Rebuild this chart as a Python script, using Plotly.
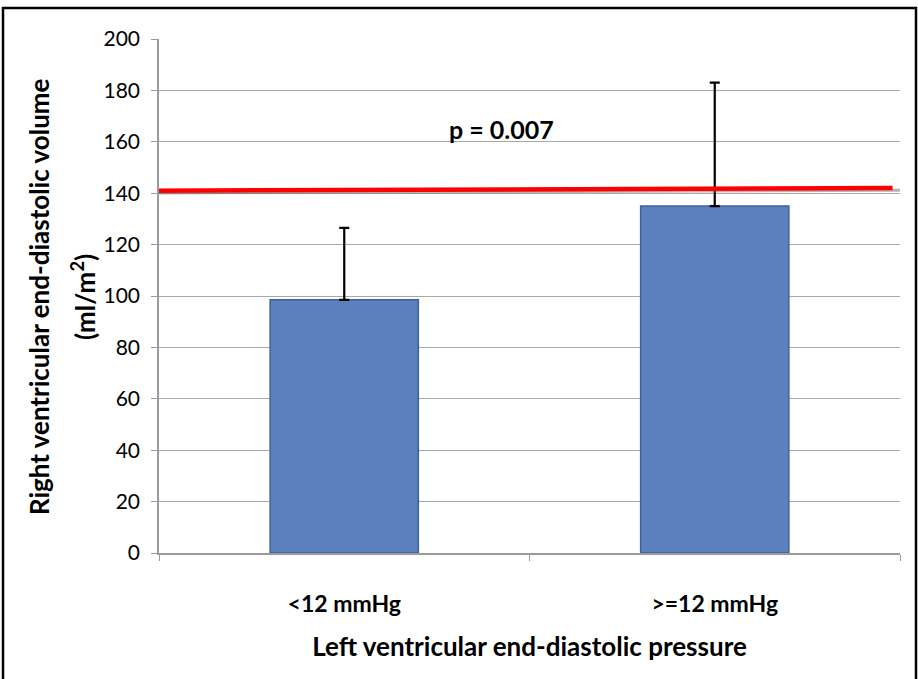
import plotly.graph_objects as go

# Data
categories = ["<12 mmHg", ">=12 mmHg"]
means = [98.5, 135]
sd_plus = [28, 48]
ref_line = [141, 142]  # red reference line, left and right ends
p_label = "p = 0.007"
p_label_y = 165
y_ticks = [0, 20, 40, 60, 80, 100, 120, 140, 160, 180, 200]
y_title_lines = ["Right ventricular end-diastolic volume", "(ml/m<sup>2</sup>)"]

FONT = "Lato, 'Open Sans', sans-serif"
L, R, T, B = 159, 18, 39, 126
PW, PH = 918 - L - R, 679 - T - B

fig = go.Figure()
fig.add_trace(go.Bar(
    x=categories, y=means,
    marker=dict(color="#5C7FBD", line=dict(color="#3E6299", width=1.5)),
    width=0.4,
    error_y=dict(type="data", array=sd_plus, arrayminus=[0, 0], symmetric=False,
                 color="black", thickness=2.2, width=5),
))

# Red reference line with a soft shadow underneath
fig.add_shape(type="line", xref="paper", yref="y", x0=0.0, x1=1.0,
              y0=ref_line[0] - 0.9, y1=ref_line[1] - 0.9,
              line=dict(color="rgba(90,90,90,0.45)", width=3), layer="above")
fig.add_shape(type="line", xref="paper", yref="y", x0=0.0, x1=0.99,
              y0=ref_line[0], y1=ref_line[1],
              line=dict(color="#FF0000", width=4.5), layer="above")

fig.add_annotation(x=0.462, xref="paper", y=p_label_y, yref="y", text=f"<b>{p_label}</b>",
                   showarrow=False, font=dict(family=FONT, size=25, color="black"))

# Y-axis title, one annotation per line
for line_text, shift in zip(y_title_lines, [-120, -76]):
    fig.add_annotation(x=0, xref="paper", y=0.498, yref="paper", xshift=shift,
                       xanchor="center", yanchor="middle",
                       text=f"<b>{line_text}</b>", textangle=-90, showarrow=False,
                       font=dict(family=FONT, size=26, color="black"))

# Outer frame
fig.add_shape(type="rect", xref="paper", yref="paper",
              x0=(3 - L) / PW, x1=(916 - L) / PW, y0=-200 / PH, y1=(679 - B - 8) / PH,
              line=dict(color="black", width=2.5), fillcolor="rgba(0,0,0,0)")

fig.update_layout(
    width=918, height=679,
    margin=dict(l=L, r=R, t=T, b=B),
    paper_bgcolor="white", plot_bgcolor="white",
    showlegend=False,
    font=dict(family=FONT, color="black"),
    xaxis=dict(
        showline=True, linecolor="#9A9A9A", linewidth=1.5,
        ticks="outside", tickson="boundaries", ticklen=6, tickcolor="#9A9A9A",
        tickfont=dict(family=FONT, size=23, color="black"),
        tickvals=categories, ticktext=[f"<b>{c}</b>" for c in categories],
        ticklabelstandoff=30,
        title=dict(text="<b>Left ventricular end-diastolic pressure</b>",
                   font=dict(family=FONT, size=26, color="black"), standoff=21),
    ),
    yaxis=dict(
        range=[0, 200], tickvals=y_ticks,
        showgrid=True, gridcolor="#A8A8A8", gridwidth=1.3,
        showline=True, linecolor="#9A9A9A", linewidth=1.5,
        ticks="outside", ticklen=6, tickcolor="#9A9A9A",
        tickfont=dict(family=FONT, size=21, color="black"),
        ticklabelstandoff=7, zeroline=False,
    ),
)

fig.write_html("out.html")
